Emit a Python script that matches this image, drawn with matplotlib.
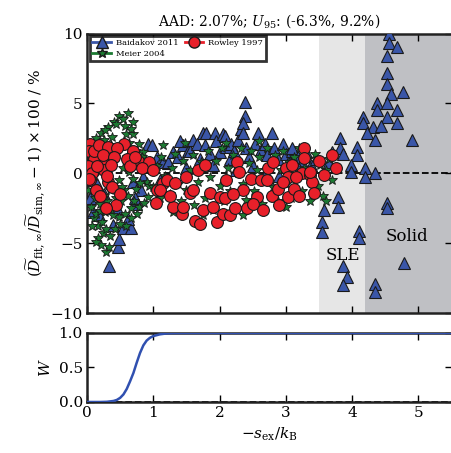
import matplotlib
matplotlib.use("Agg")
import matplotlib.pyplot as plt
from matplotlib.lines import Line2D

plt.rcParams['font.family'] = ['DejaVu Serif']
plt.rcParams['mathtext.fontset'] = 'dejavuserif'
plt.rcParams['xtick.direction'] = 'in'
plt.rcParams['ytick.direction'] = 'in'

# ---- data ----
baid_x = [0.09, 0.18, 0.33, 0.47, 0.48, 0.54, 0.39, 0.66, 0.74, 0.92, 0.69, 0.81, 0.62, 0.45, 0.25, 0.05, 0.15, 0.72, 0.85,
          0.98, 1.05, 1.15, 1.22, 1.22, 1.30, 1.37, 1.45, 1.52, 1.55, 1.60, 1.66, 1.70, 1.75, 1.78, 1.80, 1.85, 1.93, 1.95,
          2.00, 2.05, 2.08, 2.10, 2.15, 2.18, 2.22, 2.28, 2.32, 2.38, 2.38, 2.36, 2.35, 2.40, 2.45, 2.53, 2.58, 2.62, 2.68,
          2.72, 2.79, 2.82, 2.88, 2.95, 3.00, 3.05, 3.10, 3.10, 3.18, 3.25, 3.30, 3.38, 3.45, 1.50, 1.90, 2.50, 2.90, 1.40,
          2.25, 3.20, 1.10, 2.70,
          4.56, 4.56, 4.67, 4.53, 4.53, 4.52, 4.59, 4.76, 4.38, 4.52, 4.67, 4.37, 4.52, 4.16, 4.16, 4.31, 4.44, 4.67, 4.23,
          4.34, 4.90, 3.81, 3.81, 4.08, 4.08, 3.99, 3.86, 4.19, 4.19, 4.34, 3.99, 3.78, 3.78, 3.58, 3.54, 3.54, 4.52, 4.52,
          4.11, 4.11, 3.86, 3.93, 3.86, 4.34, 4.34, 4.79, 3.65, 3.70]
baid_y = [-2.8, -3.0, -6.6, -5.3, -4.7, -3.9, -3.7, -3.9, -2.2, 2.1, -0.6, -1.2, -3.3, -2.5, -1.5, -1.8, -0.8, -1.8, -0.3,
          2.0, 1.2, 0.8, 0.7, 0.8, 1.5, 1.2, 2.0, 1.6, 1.6, 2.4, 2.1, 1.0, 2.9, 2.0, 2.9, 1.4, 2.9, 2.3,
          1.5, 2.8, 2.7, 1.9, 1.0, 2.1, 1.6, 2.4, 3.2, 5.1, 4.1, 3.6, 2.9, 1.8, 1.2, 2.1, 2.9, 1.7, 2.1,
          1.3, 2.9, 1.8, 1.0, 2.1, 1.4, 0.9, 1.6, 1.8, 1.2, 0.8, 1.5, 0.6, 1.0, 0.4, 0.6, 0.5, -0.2, 2.3,
          0.2, 0.3, -0.5, 0.0,
          10.0, 9.3, 9.0, 8.4, 7.2, 6.4, 5.7, 5.8, 5.0, 5.0, 4.5, 4.5, 4.0, 4.0, 3.6, 3.3, 3.4, 3.6, 2.9,
          2.4, 2.4, 2.5, 1.8, 1.9, 1.3, 0.6, 1.4, 0.4, -0.3, 0.0, 0.1, -1.7, -2.4, -2.6, -3.5, -4.2, -2.1, -2.5,
          -4.1, -4.6, -6.6, -7.4, -8.0, -7.9, -8.5, -6.4, 0.8, 1.5]

meier_x = [0.48, 0.62, 0.70, 0.41, 0.32, 0.21, 0.14, 0.59, 0.69, 0.78, 0.55, 0.27, 0.36, 0.08, 0.03, 0.06, 0.11, 0.17,
           0.24, 0.21, 0.29, 0.33, 0.59, 0.48, 0.39, 0.56, 0.48, 0.54, 0.63, 0.74, 0.92, 0.96, 0.02, 0.05, 0.12, 0.20,
           0.30, 0.35, 0.40, 0.45, 0.66, 0.80, 0.85, 0.90, 0.10, 0.27, 0.70, 0.52, 0.75, 0.16, 0.60,
           0.44, 0.58, 0.67, 0.37, 0.25, 0.18, 0.10, 0.64, 0.74, 0.83, 0.88, 0.13, 0.22, 0.28, 0.34, 0.42, 0.50,
           0.57, 0.66, 0.78, 0.86, 0.94, 0.07, 0.19, 0.36, 0.43, 0.53, 0.62, 0.71, 0.80, 0.09, 0.26, 0.31, 0.14,
           1.00, 1.05, 1.10, 1.12, 1.18, 1.25, 1.28, 1.33, 1.38, 1.42, 1.45, 1.50, 1.55, 1.60, 1.62, 1.68, 1.72, 1.78,
           1.82, 1.86, 1.90, 1.95, 2.00, 2.03, 2.07, 2.12, 2.16, 2.20, 2.25, 2.28, 2.32, 2.36, 2.40, 2.44, 2.48, 2.52,
           2.56, 2.60, 2.64, 2.68, 2.72, 2.76, 2.80, 2.84, 2.88, 2.92, 2.96, 3.00, 3.04, 3.08, 3.12, 3.16, 3.20, 3.24,
           3.28, 3.32, 3.36, 3.40, 3.44, 3.48, 3.52, 3.56, 3.60, 3.65, 3.70, 1.15, 1.48, 2.10, 2.60, 1.30, 1.75, 2.35,
           3.00, 3.60]
meier_y = [4.1, 4.3, 3.7, 3.7, 3.3, 2.9, 2.5, 2.8, 2.8, 2.1, 3.9, 3.1, 2.0, 2.0, 0.2, -2.4, -3.2, -3.8,
           -4.3, -5.1, -5.6, -5.3, -3.8, -3.1, -3.0, -1.2, -0.5, 0.4, 0.1, -1.1, -1.7, 0.2, -1.2, 1.2, -1.8, -2.2,
           -2.0, -1.2, 0.8, 1.5, -2.5, 0.9, 1.5, -0.6, -0.2, -2.8, -0.4, -2.0, -2.9, -4.6, 1.2,
           3.5, 3.4, 3.2, 2.6, 2.4, 2.1, 1.7, 2.2, 1.6, 1.2, 0.5, -2.9, -3.5, -4.0, -4.5, -4.0, -3.6,
           -2.9, -3.2, -2.4, -2.1, -0.9, -3.8, -2.7, -2.6, -1.8, -1.0, -1.6, -2.0, -0.7, -0.9, -1.6, -0.8, -4.9,
           -1.0, 0.5, -1.8, 1.2, -0.2, -1.5, 0.4, 1.4, -0.8, -2.0, 0.9, -1.2, 0.2, 1.3, -2.3, -0.6, 0.8, -1.8,
           1.6, -0.3, -2.6, 0.9, -0.9, 1.8, -2.0, 0.4, -1.3, 1.3, -2.5, 0.0, 1.8, -0.8, -1.9, 0.7, 1.6, -1.3,
           0.2, 1.2, -2.2, -0.5, 1.8, 0.6, -1.0, 1.3, -2.0, 0.2, 1.6, -0.8, 0.8, -1.8, 1.2, -0.3, 1.8, -1.3,
           0.4, 1.0, -2.0, 0.0, 1.4, -0.9, 0.6, -1.6, 0.2, 1.0, -0.5, 2.0, 2.2, 2.2, 2.3, -2.8, -3.0, -3.0,
           -2.4, -2.0]

rowley_x = [0.05, 0.03, 0.10, 0.02, 0.08, 0.04, 0.14, 0.03, 0.10, 0.18, 0.26, 0.26, 0.32, 0.32, 0.24, 0.30, 0.38,
            0.44, 0.29, 0.56, 0.69, 0.77, 0.93, 0.83, 0.45, 0.40, 0.60, 0.20, 0.15, 0.36, 0.50, 0.65, 0.72,
            1.00, 1.04, 1.05, 1.15, 1.20, 1.10, 1.30, 1.33, 1.43, 1.45, 1.55, 1.60, 1.63, 1.67, 1.70, 1.75, 1.78,
            1.85, 1.96, 2.00, 2.05, 2.08, 2.10, 2.15, 2.23, 2.26, 2.30, 2.35, 2.42, 2.48, 2.56, 2.62, 2.71, 2.73,
            2.79, 2.80, 2.88, 3.00, 3.03, 3.03, 3.13, 3.20, 3.25, 3.28, 3.28, 3.36, 3.40, 3.43, 3.50, 3.58, 3.70,
            3.76, 3.36, 3.10, 2.50, 2.65, 2.90, 1.90, 1.50, 2.20, 2.95, 3.15, 1.25]
rowley_y = [2.1, 1.6, 1.0, 0.5, 0.0, -0.5, -1.2, -0.4, 1.6, 2.0, 0.7, 0.2, 1.9, -0.6, 1.3, -0.2, -1.0,
            -2.3, -2.5, 2.1, 1.6, 0.9, 0.8, 0.4, 1.8, 1.2, 1.0, -1.6, 0.5, 0.6, -1.5, 0.5, 1.2,
            0.2, -2.1, -1.2, -0.7, -0.5, -1.2, -2.4, -0.7, -2.9, -2.4, -1.4, -1.2, -3.4, 0.2, -3.6, -2.6, 0.6,
            -1.4, -3.5, -1.7, -2.9, -1.8, -0.5, -3.0, -2.5, 0.8, 0.1, -1.2, -2.5, -0.4, -1.7, -0.5, -0.5, 0.4,
            -1.6, 0.8, -1.1, 0.4, -1.7, -0.3, -1.1, -1.6, 0.0, 1.8, 1.1, -0.1, -0.6, -1.4, 0.9, -0.1, 1.3,
            0.4, 0.1, 0.6, -2.2, -2.6, -2.3, -2.4, -0.3, -1.5, -0.6, -0.3, -1.6]

w_x = [0.0, 0.2, 0.3, 0.4, 0.45, 0.5, 0.55, 0.6, 0.65, 0.7, 0.75, 0.8, 0.85, 0.9, 0.95, 1.0, 1.1, 1.2, 1.3, 1.5, 5.5]
w_y = [0.0, 0.0, 0.003, 0.015, 0.03, 0.06, 0.11, 0.19, 0.30, 0.42, 0.57, 0.71, 0.82, 0.89, 0.93, 0.955, 0.98, 0.993, 0.998, 1.0, 1.0]

sle_range = (3.5, 4.2)
solid_range = (4.2, 5.5)

blue = '#3a56a8'
green = '#1c7a32'
red = '#e8202a'
edge = '#1a1a1a'
spine_col = '#222222'

fig = plt.figure(figsize=(4.52, 4.53), dpi=100)
ax1 = fig.add_axes([0.1925, 0.309, 0.8065, 0.617])
ax2 = fig.add_axes([0.1925, 0.1126, 0.8065, 0.1524], sharex=ax1)

ax1.axvspan(*sle_range, color='#e6e6e6', lw=0, zorder=0)
ax1.axvspan(*solid_range, color='#bfc0c4', lw=0, zorder=0)
ax1.axhline(0, color='k', ls='--', lw=1.3, zorder=1)

ax1.plot(baid_x, baid_y, ls='none', marker='^', ms=8.5, mfc=blue, mec=edge, mew=0.8, zorder=3)
ax1.plot(meier_x, meier_y, ls='none', marker='*', ms=7, mfc=green, mec=edge, mew=0.6, zorder=4)
ax1.plot(rowley_x, rowley_y, ls='none', marker='o', ms=8.5, mfc=red, mec=edge, mew=0.8, zorder=5)

ax1.text(3.86, -5.9, 'SLE', ha='center', va='center', fontsize=12, zorder=6)
ax1.text(4.83, -4.5, 'Solid', ha='center', va='center', fontsize=12, zorder=6)

ax1.set_xlim(0, 5.5)
ax1.set_ylim(-10, 10)
ax1.set_yticks([-10, -5, 0, 5, 10])
ax1.set_ylabel(r'$(\widetilde{D}_{\mathrm{fit},\infty}/\widetilde{D}_{\mathrm{sim},\infty}-1)\times 100$ / %',
               fontsize=11, labelpad=2)
ax1.set_title(r'AAD: 2.07%; $U_{95}$: (-6.3%, 9.2%)', fontsize=10, pad=6)
ax1.tick_params(labelbottom=False)

handles = [Line2D([], [], color=blue, marker='^', ms=8, mfc=blue, mec=edge, lw=2),
           Line2D([], [], color=green, marker='*', ms=7, mfc=green, mec=edge, lw=2),
           Line2D([], [], color=red, marker='o', ms=8, mfc=red, mec=edge, lw=2)]
leg = ax1.legend(handles, ['Baidakov 2011', 'Meier 2004', 'Rowley 1997'], ncol=2, loc='upper left',
                 fontsize=6, frameon=True, fancybox=False, borderpad=0.35, handlelength=2.2,
                 handletextpad=0.6, columnspacing=0.8, labelspacing=0.35, borderaxespad=0.3)
leg.get_frame().set_edgecolor('k')
leg.get_frame().set_linewidth(2)
leg.set_zorder(10)

ax2.plot(w_x, w_y, color='#3050b0', lw=1.8, zorder=3)
ax2.axhline(0, color='k', ls='--', lw=1.3, zorder=2)
ax2.set_ylim(0, 1)
ax2.set_yticks([0.0, 0.5, 1.0])
ax2.set_yticklabels(['0.0', '0.5', '1.0'])
ax2.set_xticks([0, 1, 2, 3, 4, 5])
ax2.set_ylabel(r'$W$', fontsize=11)
ax2.set_xlabel(r'$-s_{\mathrm{ex}}/k_{\mathrm{B}}$', fontsize=11)

for ax in (ax1, ax2):
    for s in ax.spines.values():
        s.set_linewidth(1.8)
        s.set_color(spine_col)
    ax.tick_params(which='both', top=True, right=True, labelsize=11, length=5, width=1, pad=3)

fig.savefig('out.png', dpi=100)
